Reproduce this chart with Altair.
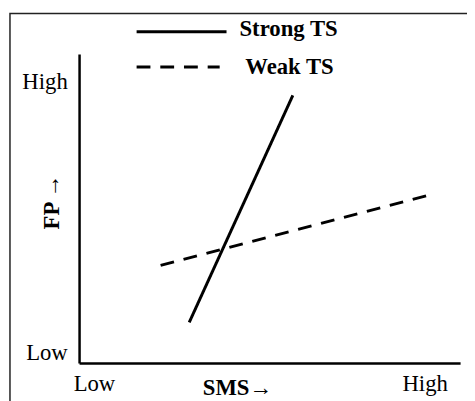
import altair as alt
import pandas as pd

# ---- data (in 0..10 axis units) ----
series = ["Strong TS", "Weak TS"]
x_start = [2.89, 2.14]
y_start = [1.31, 3.16]
x_end = [5.61, 9.17]
y_end = [8.66, 5.43]

x_tick_labels = ["Low", "High"]
x_tick_pos = [0.39, 9.07]
y_tick_labels = ["Low", "High"]
y_tick_pos = [0.35, 9.10]
x_title = "SMS→"
y_title = "FP →"

# ---- layout constants ----
FONT = "'Liberation Serif', 'Times New Roman', serif"
FS = 23
W, H = 386, 313
LEG_X0 = 1.51
LEG_X1 = [3.87, 3.69]
LEG_LINE_Y = [10.72, 9.58]
LEG_TEXT_X = [4.21, 4.36]
LEG_TEXT_Y = [10.79, 9.59]

rows = []
for i, s in enumerate(series):
    rows.append({"series": s, "x": x_start[i], "y": y_start[i], "o": 0})
    rows.append({"series": s, "x": x_end[i], "y": y_end[i], "o": 1})
lines_df = pd.DataFrame(rows)

leg_rows = []
for i, s in enumerate(series):
    leg_rows.append({"series": s, "x": LEG_X0, "y": LEG_LINE_Y[i], "o": 0})
    leg_rows.append({"series": s, "x": LEG_X1[i], "y": LEG_LINE_Y[i], "o": 1})
leg_df = pd.DataFrame(leg_rows)
leg_text_df = pd.DataFrame({"series": series, "x": LEG_TEXT_X, "y": LEG_TEXT_Y})

xscale = alt.Scale(domain=[0, 10], nice=False, zero=False)
yscale = alt.Scale(domain=[0, 10], nice=False, zero=False)
dash = alt.Scale(domain=series, range=[[1, 0], [14, 10]])

x_label_expr = f"datum.value < 5 ? '{x_tick_labels[0]}' : '{x_tick_labels[1]}'"
y_label_expr = f"datum.value < 5 ? '{y_tick_labels[0]}' : '{y_tick_labels[1]}'"

xaxis = alt.Axis(values=x_tick_pos, labelExpr=x_label_expr, ticks=False, tickSize=0,
                 grid=False, domainColor="black", domainWidth=2.5,
                 labelFont=FONT, labelFontSize=FS, labelColor="black", labelPadding=10,
                 labelOverlap=False, labelFlush=False,
                 title=x_title, titleFont=FONT, titleFontSize=FS, titleFontWeight="bold",
                 titleColor="black", titleX=160, titleY=32, titleAlign="center",
                 titleBaseline="alphabetic")
yaxis = alt.Axis(values=y_tick_pos, labelExpr=y_label_expr, ticks=False, tickSize=0,
                 grid=False, domainColor="black", domainWidth=2.5,
                 labelFont=FONT, labelFontSize=FS, labelColor="black", labelPadding=12,
                 labelOverlap=False, labelFlush=False,
                 title=y_title, titleFont=FONT, titleFontSize=FS, titleFontWeight="bold",
                 titleColor="black", titleX=-28, titleY=149.5, titleAlign="center",
                 titleBaseline="middle", titleAngle=270)

base_lines = alt.Chart(lines_df).mark_line(color="black", strokeWidth=3, clip=False).encode(
    x=alt.X("x:Q", scale=xscale, axis=xaxis),
    y=alt.Y("y:Q", scale=yscale, axis=yaxis),
    strokeDash=alt.StrokeDash("series:N", scale=dash, legend=None),
    detail="series:N",
    order="o:Q",
)

legend_lines = alt.Chart(leg_df).mark_line(color="black", strokeWidth=3, clip=False).encode(
    x=alt.X("x:Q", scale=xscale),
    y=alt.Y("y:Q", scale=yscale),
    strokeDash=alt.StrokeDash("series:N", scale=dash, legend=None),
    detail="series:N",
    order="o:Q",
)

legend_text = alt.Chart(leg_text_df).mark_text(
    font=FONT, fontSize=FS, fontWeight="bold", color="black",
    align="left", baseline="middle", clip=False
).encode(
    x=alt.X("x:Q", scale=xscale),
    y=alt.Y("y:Q", scale=yscale),
    text="series:N",
)

frame = alt.Chart(pd.DataFrame({"k": [0]})).mark_rect(
    fill=None, fillOpacity=0, stroke="#222222", strokeWidth=1.5, clip=False
).encode(
    x=alt.value(-70), x2=alt.value(600), y=alt.value(-41), y2=alt.value(600)
)

chart = alt.layer(frame, base_lines, legend_lines, legend_text).properties(
    width=W, height=H,
    autosize=alt.AutoSizeParams(type="none"),
    padding={"left": 72, "top": 44, "right": 7, "bottom": 40},
    background="white",
).configure_view(stroke=None)

chart.save("out.html", embed_options={"renderer": "svg", "actions": False})
